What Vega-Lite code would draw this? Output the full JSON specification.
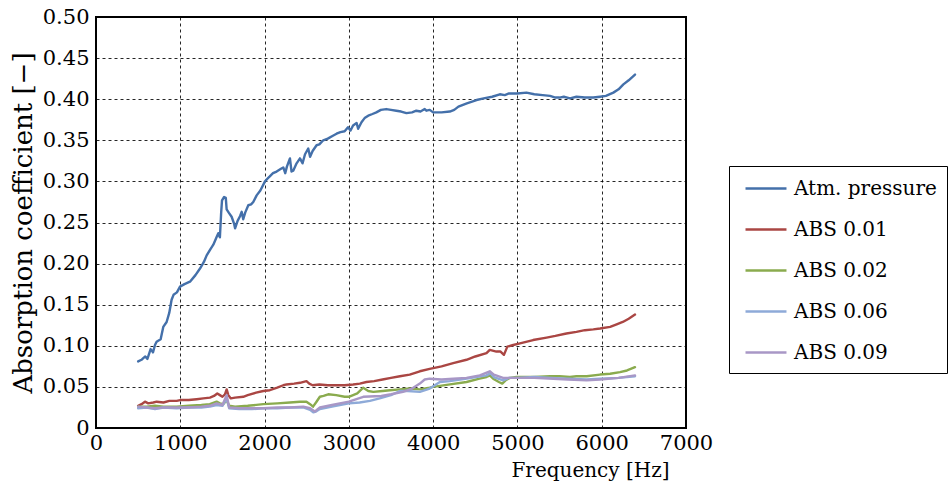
{
"$schema": "https://vega.github.io/schema/vega-lite/v6.json",
"width": 590, "height": 411,
"autosize": {"type": "none"},
"padding": {"left": 96, "top": 17, "right": 262, "bottom": 62},
"background": "white",
"config": {"font": "DejaVu Serif", "view": {"stroke": "black", "strokeWidth": 2}},
"data": {"values": [
{"s":"Atm. pressure","f":500,"a":0.081},{"s":"Atm. pressure","f":540,"a":0.083},{"s":"Atm. pressure","f":561,"a":0.085},{"s":"Atm. pressure","f":585,"a":0.087},{"s":"Atm. pressure","f":610,"a":0.084},{"s":"Atm. pressure","f":648,"a":0.096},{"s":"Atm. pressure","f":676,"a":0.092},{"s":"Atm. pressure","f":700,"a":0.101},{"s":"Atm. pressure","f":719,"a":0.105},{"s":"Atm. pressure","f":767,"a":0.108},{"s":"Atm. pressure","f":798,"a":0.123},{"s":"Atm. pressure","f":838,"a":0.129},{"s":"Atm. pressure","f":869,"a":0.140},{"s":"Atm. pressure","f":897,"a":0.156},{"s":"Atm. pressure","f":920,"a":0.162},{"s":"Atm. pressure","f":960,"a":0.165},{"s":"Atm. pressure","f":997,"a":0.172},{"s":"Atm. pressure","f":1050,"a":0.175},{"s":"Atm. pressure","f":1115,"a":0.178},{"s":"Atm. pressure","f":1180,"a":0.186},{"s":"Atm. pressure","f":1234,"a":0.194},{"s":"Atm. pressure","f":1280,"a":0.202},{"s":"Atm. pressure","f":1313,"a":0.210},{"s":"Atm. pressure","f":1360,"a":0.218},{"s":"Atm. pressure","f":1392,"a":0.223},{"s":"Atm. pressure","f":1430,"a":0.232},{"s":"Atm. pressure","f":1451,"a":0.237},{"s":"Atm. pressure","f":1470,"a":0.232},{"s":"Atm. pressure","f":1485,"a":0.262},{"s":"Atm. pressure","f":1495,"a":0.277},{"s":"Atm. pressure","f":1520,"a":0.281},{"s":"Atm. pressure","f":1540,"a":0.280},{"s":"Atm. pressure","f":1550,"a":0.266},{"s":"Atm. pressure","f":1575,"a":0.262},{"s":"Atm. pressure","f":1609,"a":0.257},{"s":"Atm. pressure","f":1640,"a":0.248},{"s":"Atm. pressure","f":1650,"a":0.243},{"s":"Atm. pressure","f":1680,"a":0.252},{"s":"Atm. pressure","f":1710,"a":0.258},{"s":"Atm. pressure","f":1728,"a":0.263},{"s":"Atm. pressure","f":1747,"a":0.254},{"s":"Atm. pressure","f":1770,"a":0.262},{"s":"Atm. pressure","f":1807,"a":0.271},{"s":"Atm. pressure","f":1840,"a":0.272},{"s":"Atm. pressure","f":1866,"a":0.275},{"s":"Atm. pressure","f":1906,"a":0.283},{"s":"Atm. pressure","f":1950,"a":0.289},{"s":"Atm. pressure","f":2005,"a":0.300},{"s":"Atm. pressure","f":2050,"a":0.305},{"s":"Atm. pressure","f":2100,"a":0.310},{"s":"Atm. pressure","f":2143,"a":0.312},{"s":"Atm. pressure","f":2190,"a":0.315},{"s":"Atm. pressure","f":2222,"a":0.317},{"s":"Atm. pressure","f":2245,"a":0.310},{"s":"Atm. pressure","f":2265,"a":0.318},{"s":"Atm. pressure","f":2301,"a":0.328},{"s":"Atm. pressure","f":2320,"a":0.312},{"s":"Atm. pressure","f":2340,"a":0.313},{"s":"Atm. pressure","f":2380,"a":0.322},{"s":"Atm. pressure","f":2420,"a":0.328},{"s":"Atm. pressure","f":2450,"a":0.322},{"s":"Atm. pressure","f":2480,"a":0.333},{"s":"Atm. pressure","f":2518,"a":0.340},{"s":"Atm. pressure","f":2540,"a":0.330},{"s":"Atm. pressure","f":2570,"a":0.337},{"s":"Atm. pressure","f":2617,"a":0.344},{"s":"Atm. pressure","f":2650,"a":0.345},{"s":"Atm. pressure","f":2696,"a":0.350},{"s":"Atm. pressure","f":2750,"a":0.352},{"s":"Atm. pressure","f":2800,"a":0.355},{"s":"Atm. pressure","f":2854,"a":0.358},{"s":"Atm. pressure","f":2900,"a":0.360},{"s":"Atm. pressure","f":2950,"a":0.361},{"s":"Atm. pressure","f":2990,"a":0.366},{"s":"Atm. pressure","f":3020,"a":0.362},{"s":"Atm. pressure","f":3050,"a":0.368},{"s":"Atm. pressure","f":3092,"a":0.371},{"s":"Atm. pressure","f":3110,"a":0.364},{"s":"Atm. pressure","f":3150,"a":0.372},{"s":"Atm. pressure","f":3187,"a":0.377},{"s":"Atm. pressure","f":3230,"a":0.380},{"s":"Atm. pressure","f":3280,"a":0.382},{"s":"Atm. pressure","f":3326,"a":0.384},{"s":"Atm. pressure","f":3380,"a":0.387},{"s":"Atm. pressure","f":3444,"a":0.388},{"s":"Atm. pressure","f":3500,"a":0.387},{"s":"Atm. pressure","f":3563,"a":0.386},{"s":"Atm. pressure","f":3620,"a":0.385},{"s":"Atm. pressure","f":3683,"a":0.383},{"s":"Atm. pressure","f":3750,"a":0.384},{"s":"Atm. pressure","f":3800,"a":0.386},{"s":"Atm. pressure","f":3850,"a":0.385},{"s":"Atm. pressure","f":3900,"a":0.388},{"s":"Atm. pressure","f":3920,"a":0.386},{"s":"Atm. pressure","f":3960,"a":0.387},{"s":"Atm. pressure","f":4000,"a":0.384},{"s":"Atm. pressure","f":4050,"a":0.384},{"s":"Atm. pressure","f":4100,"a":0.384},{"s":"Atm. pressure","f":4198,"a":0.385},{"s":"Atm. pressure","f":4250,"a":0.387},{"s":"Atm. pressure","f":4300,"a":0.391},{"s":"Atm. pressure","f":4400,"a":0.395},{"s":"Atm. pressure","f":4515,"a":0.399},{"s":"Atm. pressure","f":4600,"a":0.401},{"s":"Atm. pressure","f":4700,"a":0.403},{"s":"Atm. pressure","f":4791,"a":0.406},{"s":"Atm. pressure","f":4850,"a":0.405},{"s":"Atm. pressure","f":4900,"a":0.407},{"s":"Atm. pressure","f":5000,"a":0.407},{"s":"Atm. pressure","f":5107,"a":0.408},{"s":"Atm. pressure","f":5200,"a":0.406},{"s":"Atm. pressure","f":5300,"a":0.405},{"s":"Atm. pressure","f":5387,"a":0.404},{"s":"Atm. pressure","f":5450,"a":0.402},{"s":"Atm. pressure","f":5500,"a":0.402},{"s":"Atm. pressure","f":5550,"a":0.403},{"s":"Atm. pressure","f":5624,"a":0.401},{"s":"Atm. pressure","f":5700,"a":0.403},{"s":"Atm. pressure","f":5800,"a":0.402},{"s":"Atm. pressure","f":5900,"a":0.402},{"s":"Atm. pressure","f":5980,"a":0.403},{"s":"Atm. pressure","f":6050,"a":0.404},{"s":"Atm. pressure","f":6138,"a":0.408},{"s":"Atm. pressure","f":6200,"a":0.412},{"s":"Atm. pressure","f":6257,"a":0.418},{"s":"Atm. pressure","f":6320,"a":0.423},{"s":"Atm. pressure","f":6395,"a":0.430},
{"s":"ABS 0.01","f":500,"a":0.027},{"s":"ABS 0.01","f":540,"a":0.029},{"s":"ABS 0.01","f":581,"a":0.032},{"s":"ABS 0.01","f":620,"a":0.030},{"s":"ABS 0.01","f":680,"a":0.031},{"s":"ABS 0.01","f":720,"a":0.032},{"s":"ABS 0.01","f":800,"a":0.031},{"s":"ABS 0.01","f":870,"a":0.033},{"s":"ABS 0.01","f":957,"a":0.033},{"s":"ABS 0.01","f":1000,"a":0.034},{"s":"ABS 0.01","f":1100,"a":0.034},{"s":"ABS 0.01","f":1194,"a":0.035},{"s":"ABS 0.01","f":1273,"a":0.036},{"s":"ABS 0.01","f":1352,"a":0.037},{"s":"ABS 0.01","f":1400,"a":0.039},{"s":"ABS 0.01","f":1439,"a":0.042},{"s":"ABS 0.01","f":1470,"a":0.040},{"s":"ABS 0.01","f":1500,"a":0.038},{"s":"ABS 0.01","f":1530,"a":0.041},{"s":"ABS 0.01","f":1550,"a":0.047},{"s":"ABS 0.01","f":1570,"a":0.040},{"s":"ABS 0.01","f":1600,"a":0.036},{"s":"ABS 0.01","f":1650,"a":0.037},{"s":"ABS 0.01","f":1747,"a":0.038},{"s":"ABS 0.01","f":1800,"a":0.040},{"s":"ABS 0.01","f":1900,"a":0.043},{"s":"ABS 0.01","f":1985,"a":0.045},{"s":"ABS 0.01","f":2062,"a":0.046},{"s":"ABS 0.01","f":2150,"a":0.049},{"s":"ABS 0.01","f":2222,"a":0.052},{"s":"ABS 0.01","f":2260,"a":0.053},{"s":"ABS 0.01","f":2350,"a":0.054},{"s":"ABS 0.01","f":2420,"a":0.055},{"s":"ABS 0.01","f":2497,"a":0.057},{"s":"ABS 0.01","f":2530,"a":0.054},{"s":"ABS 0.01","f":2570,"a":0.052},{"s":"ABS 0.01","f":2650,"a":0.053},{"s":"ABS 0.01","f":2750,"a":0.052},{"s":"ABS 0.01","f":2854,"a":0.052},{"s":"ABS 0.01","f":2950,"a":0.052},{"s":"ABS 0.01","f":3050,"a":0.053},{"s":"ABS 0.01","f":3130,"a":0.054},{"s":"ABS 0.01","f":3208,"a":0.056},{"s":"ABS 0.01","f":3300,"a":0.057},{"s":"ABS 0.01","f":3400,"a":0.059},{"s":"ABS 0.01","f":3500,"a":0.061},{"s":"ABS 0.01","f":3606,"a":0.063},{"s":"ABS 0.01","f":3722,"a":0.065},{"s":"ABS 0.01","f":3842,"a":0.069},{"s":"ABS 0.01","f":3959,"a":0.072},{"s":"ABS 0.01","f":4100,"a":0.075},{"s":"ABS 0.01","f":4238,"a":0.079},{"s":"ABS 0.01","f":4396,"a":0.083},{"s":"ABS 0.01","f":4500,"a":0.087},{"s":"ABS 0.01","f":4633,"a":0.091},{"s":"ABS 0.01","f":4672,"a":0.095},{"s":"ABS 0.01","f":4750,"a":0.093},{"s":"ABS 0.01","f":4800,"a":0.093},{"s":"ABS 0.01","f":4840,"a":0.089},{"s":"ABS 0.01","f":4880,"a":0.099},{"s":"ABS 0.01","f":4950,"a":0.101},{"s":"ABS 0.01","f":5030,"a":0.103},{"s":"ABS 0.01","f":5186,"a":0.107},{"s":"ABS 0.01","f":5346,"a":0.110},{"s":"ABS 0.01","f":5450,"a":0.112},{"s":"ABS 0.01","f":5581,"a":0.115},{"s":"ABS 0.01","f":5700,"a":0.117},{"s":"ABS 0.01","f":5800,"a":0.119},{"s":"ABS 0.01","f":5900,"a":0.120},{"s":"ABS 0.01","f":5980,"a":0.121},{"s":"ABS 0.01","f":6100,"a":0.123},{"s":"ABS 0.01","f":6177,"a":0.126},{"s":"ABS 0.01","f":6250,"a":0.129},{"s":"ABS 0.01","f":6320,"a":0.133},{"s":"ABS 0.01","f":6395,"a":0.138},
{"s":"ABS 0.02","f":500,"a":0.026},{"s":"ABS 0.02","f":600,"a":0.026},{"s":"ABS 0.02","f":700,"a":0.027},{"s":"ABS 0.02","f":800,"a":0.026},{"s":"ABS 0.02","f":957,"a":0.026},{"s":"ABS 0.02","f":1100,"a":0.027},{"s":"ABS 0.02","f":1250,"a":0.028},{"s":"ABS 0.02","f":1350,"a":0.029},{"s":"ABS 0.02","f":1431,"a":0.032},{"s":"ABS 0.02","f":1470,"a":0.030},{"s":"ABS 0.02","f":1510,"a":0.029},{"s":"ABS 0.02","f":1550,"a":0.034},{"s":"ABS 0.02","f":1580,"a":0.027},{"s":"ABS 0.02","f":1650,"a":0.026},{"s":"ABS 0.02","f":1800,"a":0.027},{"s":"ABS 0.02","f":1985,"a":0.029},{"s":"ABS 0.02","f":2150,"a":0.030},{"s":"ABS 0.02","f":2301,"a":0.031},{"s":"ABS 0.02","f":2420,"a":0.032},{"s":"ABS 0.02","f":2497,"a":0.032},{"s":"ABS 0.02","f":2540,"a":0.029},{"s":"ABS 0.02","f":2575,"a":0.026},{"s":"ABS 0.02","f":2610,"a":0.031},{"s":"ABS 0.02","f":2656,"a":0.038},{"s":"ABS 0.02","f":2700,"a":0.039},{"s":"ABS 0.02","f":2755,"a":0.041},{"s":"ABS 0.02","f":2850,"a":0.040},{"s":"ABS 0.02","f":2950,"a":0.038},{"s":"ABS 0.02","f":3000,"a":0.038},{"s":"ABS 0.02","f":3100,"a":0.042},{"s":"ABS 0.02","f":3171,"a":0.049},{"s":"ABS 0.02","f":3230,"a":0.045},{"s":"ABS 0.02","f":3290,"a":0.044},{"s":"ABS 0.02","f":3400,"a":0.045},{"s":"ABS 0.02","f":3488,"a":0.046},{"s":"ABS 0.02","f":3606,"a":0.047},{"s":"ABS 0.02","f":3722,"a":0.048},{"s":"ABS 0.02","f":3842,"a":0.047},{"s":"ABS 0.02","f":3959,"a":0.049},{"s":"ABS 0.02","f":4000,"a":0.050},{"s":"ABS 0.02","f":4200,"a":0.053},{"s":"ABS 0.02","f":4396,"a":0.056},{"s":"ABS 0.02","f":4550,"a":0.060},{"s":"ABS 0.02","f":4633,"a":0.062},{"s":"ABS 0.02","f":4672,"a":0.064},{"s":"ABS 0.02","f":4712,"a":0.060},{"s":"ABS 0.02","f":4780,"a":0.056},{"s":"ABS 0.02","f":4820,"a":0.054},{"s":"ABS 0.02","f":4860,"a":0.058},{"s":"ABS 0.02","f":4910,"a":0.061},{"s":"ABS 0.02","f":4989,"a":0.062},{"s":"ABS 0.02","f":5200,"a":0.062},{"s":"ABS 0.02","f":5387,"a":0.063},{"s":"ABS 0.02","f":5500,"a":0.063},{"s":"ABS 0.02","f":5623,"a":0.062},{"s":"ABS 0.02","f":5700,"a":0.063},{"s":"ABS 0.02","f":5822,"a":0.063},{"s":"ABS 0.02","f":5980,"a":0.065},{"s":"ABS 0.02","f":6100,"a":0.066},{"s":"ABS 0.02","f":6217,"a":0.068},{"s":"ABS 0.02","f":6300,"a":0.070},{"s":"ABS 0.02","f":6395,"a":0.074},
{"s":"ABS 0.06","f":500,"a":0.024},{"s":"ABS 0.06","f":600,"a":0.025},{"s":"ABS 0.06","f":700,"a":0.023},{"s":"ABS 0.06","f":800,"a":0.025},{"s":"ABS 0.06","f":957,"a":0.024},{"s":"ABS 0.06","f":1100,"a":0.025},{"s":"ABS 0.06","f":1250,"a":0.025},{"s":"ABS 0.06","f":1350,"a":0.026},{"s":"ABS 0.06","f":1431,"a":0.028},{"s":"ABS 0.06","f":1500,"a":0.027},{"s":"ABS 0.06","f":1550,"a":0.036},{"s":"ABS 0.06","f":1580,"a":0.024},{"s":"ABS 0.06","f":1700,"a":0.023},{"s":"ABS 0.06","f":1850,"a":0.023},{"s":"ABS 0.06","f":1985,"a":0.024},{"s":"ABS 0.06","f":2150,"a":0.024},{"s":"ABS 0.06","f":2300,"a":0.025},{"s":"ABS 0.06","f":2459,"a":0.025},{"s":"ABS 0.06","f":2540,"a":0.022},{"s":"ABS 0.06","f":2578,"a":0.019},{"s":"ABS 0.06","f":2610,"a":0.020},{"s":"ABS 0.06","f":2656,"a":0.023},{"s":"ABS 0.06","f":2800,"a":0.026},{"s":"ABS 0.06","f":3000,"a":0.030},{"s":"ABS 0.06","f":3128,"a":0.031},{"s":"ABS 0.06","f":3250,"a":0.033},{"s":"ABS 0.06","f":3365,"a":0.036},{"s":"ABS 0.06","f":3500,"a":0.040},{"s":"ABS 0.06","f":3606,"a":0.045},{"s":"ABS 0.06","f":3700,"a":0.045},{"s":"ABS 0.06","f":3842,"a":0.044},{"s":"ABS 0.06","f":3959,"a":0.048},{"s":"ABS 0.06","f":4080,"a":0.056},{"s":"ABS 0.06","f":4198,"a":0.057},{"s":"ABS 0.06","f":4400,"a":0.060},{"s":"ABS 0.06","f":4633,"a":0.064},{"s":"ABS 0.06","f":4680,"a":0.067},{"s":"ABS 0.06","f":4720,"a":0.062},{"s":"ABS 0.06","f":4830,"a":0.058},{"s":"ABS 0.06","f":4900,"a":0.061},{"s":"ABS 0.06","f":5000,"a":0.061},{"s":"ABS 0.06","f":5200,"a":0.062},{"s":"ABS 0.06","f":5400,"a":0.061},{"s":"ABS 0.06","f":5600,"a":0.060},{"s":"ABS 0.06","f":5822,"a":0.059},{"s":"ABS 0.06","f":5980,"a":0.060},{"s":"ABS 0.06","f":6200,"a":0.061},{"s":"ABS 0.06","f":6395,"a":0.063},
{"s":"ABS 0.09","f":500,"a":0.026},{"s":"ABS 0.09","f":600,"a":0.025},{"s":"ABS 0.09","f":700,"a":0.024},{"s":"ABS 0.09","f":800,"a":0.025},{"s":"ABS 0.09","f":957,"a":0.025},{"s":"ABS 0.09","f":1100,"a":0.025},{"s":"ABS 0.09","f":1250,"a":0.026},{"s":"ABS 0.09","f":1350,"a":0.027},{"s":"ABS 0.09","f":1431,"a":0.030},{"s":"ABS 0.09","f":1500,"a":0.028},{"s":"ABS 0.09","f":1550,"a":0.040},{"s":"ABS 0.09","f":1580,"a":0.025},{"s":"ABS 0.09","f":1700,"a":0.024},{"s":"ABS 0.09","f":1850,"a":0.024},{"s":"ABS 0.09","f":1985,"a":0.024},{"s":"ABS 0.09","f":2150,"a":0.025},{"s":"ABS 0.09","f":2300,"a":0.025},{"s":"ABS 0.09","f":2459,"a":0.026},{"s":"ABS 0.09","f":2540,"a":0.024},{"s":"ABS 0.09","f":2597,"a":0.020},{"s":"ABS 0.09","f":2630,"a":0.023},{"s":"ABS 0.09","f":2656,"a":0.025},{"s":"ABS 0.09","f":2800,"a":0.028},{"s":"ABS 0.09","f":3000,"a":0.032},{"s":"ABS 0.09","f":3171,"a":0.038},{"s":"ABS 0.09","f":3385,"a":0.039},{"s":"ABS 0.09","f":3500,"a":0.041},{"s":"ABS 0.09","f":3642,"a":0.044},{"s":"ABS 0.09","f":3750,"a":0.048},{"s":"ABS 0.09","f":3842,"a":0.054},{"s":"ABS 0.09","f":3900,"a":0.059},{"s":"ABS 0.09","f":3959,"a":0.060},{"s":"ABS 0.09","f":4100,"a":0.059},{"s":"ABS 0.09","f":4238,"a":0.060},{"s":"ABS 0.09","f":4396,"a":0.061},{"s":"ABS 0.09","f":4554,"a":0.064},{"s":"ABS 0.09","f":4672,"a":0.069},{"s":"ABS 0.09","f":4720,"a":0.065},{"s":"ABS 0.09","f":4830,"a":0.061},{"s":"ABS 0.09","f":4989,"a":0.061},{"s":"ABS 0.09","f":5200,"a":0.061},{"s":"ABS 0.09","f":5425,"a":0.060},{"s":"ABS 0.09","f":5600,"a":0.059},{"s":"ABS 0.09","f":5822,"a":0.058},{"s":"ABS 0.09","f":5980,"a":0.059},{"s":"ABS 0.09","f":6200,"a":0.061},{"s":"ABS 0.09","f":6395,"a":0.064}
]},
"mark": {"type": "line", "strokeWidth": 2.4, "strokeJoin": "round", "strokeCap": "round"},
"encoding": {
 "x": {"field": "f", "type": "quantitative", "scale": {"domain": [0, 7000], "nice": false, "zero": false},
   "axis": {"values": [0,1000,2000,3000,4000,5000,6000,7000], "format": "d", "grid": true, "gridColor": "black", "gridDash": [3,3], "gridWidth": 1, "gridOpacity": 0.85, "domain": false, "ticks": false, "labelFlush": false, "labelFont": "DejaVu Serif", "labelFontSize": 21, "labelColor": "black", "labelPadding": 4, "title": "Frequency [Hz]", "titleFont": "DejaVu Serif", "titleFontSize": 20, "titleFontWeight": "normal", "titleColor": "black", "titlePadding": 7, "titleX": 494, "titleAnchor": "middle"}},
 "y": {"field": "a", "type": "quantitative", "scale": {"domain": [0, 0.5], "nice": false},
   "axis": {"values": [0,0.05,0.1,0.15,0.2,0.25,0.3,0.35,0.4,0.45,0.5], "labelExpr": "datum.value == 0 ? '0' : format(datum.value, '.2f')", "grid": true, "gridColor": "black", "gridDash": [3,3], "gridWidth": 1, "gridOpacity": 0.85, "domain": false, "ticks": false, "labelFlush": false, "labelFont": "DejaVu Serif", "labelFontSize": 21, "labelColor": "black", "labelPadding": 7, "title": "Absorption coefficient [\u2212]", "titleFont": "DejaVu Serif", "titleFontSize": 26, "titleFontWeight": "normal", "titleColor": "black", "titlePadding": 6}},
 "color": {"field": "s", "type": "nominal",
   "scale": {"domain": ["Atm. pressure", "ABS 0.01", "ABS 0.02", "ABS 0.06", "ABS 0.09"], "range": ["#4470aa", "#aa4643", "#8aab4e", "#8eaad8", "#a897c6"]},
   "legend": {"title": null, "orient": "none", "legendX": 633, "legendY": 149, "strokeColor": "black", "fillColor": "white", "padding": 10, "rowPadding": 18, "symbolType": "M-0.545,0H3.18", "symbolSize": 484, "symbolStrokeWidth": 2.5, "labelFont": "DejaVu Serif", "labelFontSize": 20, "labelColor": "black", "labelOffset": 30, "labelLimit": 300}}
}
}
